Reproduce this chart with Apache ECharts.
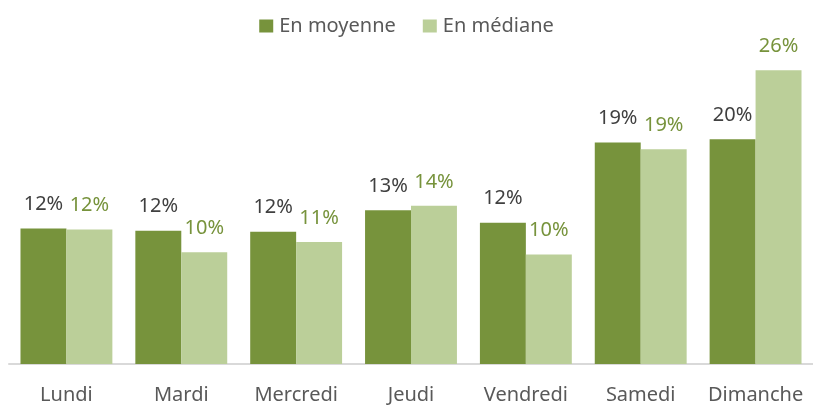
<!DOCTYPE html>
<html>
<head>
<meta charset="utf-8">
<script src="https://cdn.jsdelivr.net/npm/echarts@6/dist/echarts.min.js"></script>
<style>
  html, body { margin: 0; padding: 0; background: #fff; }
</style>
</head>
<body>
<div id="chart" style="width: 813px;height: 406px;"></div>
<script>
// jours de la semaine
const days = ['Lundi', 'Mardi', 'Mercredi', 'Jeudi', 'Vendredi', 'Samedi', 'Dimanche'];
// hauteurs des barres (%)
const moyenne = [12.0, 11.8, 11.7, 13.6, 12.5, 19.6, 19.9];
const mediane = [11.9, 9.9, 10.8, 14.0, 9.7, 19.0, 26.0];
// étiquettes affichées au-dessus des barres
const moyenneLabels = ['12%', '12%', '12%', '13%', '12%', '19%', '20%'];
const medianeLabels = ['12%', '10%', '11%', '14%', '10%', '19%', '26%'];

const FONT = 'Noto Sans';

const chart = echarts.init(document.getElementById('chart'));

let option = {
  animation: false,
  legend: {
    show: true,
    top: 11,
    left: 'center',
    icon: 'rect',
    itemWidth: 14,
    itemHeight: 13,
    itemGap: 27,
    textStyle: {
      color: '#595959',
      fontSize: 20,
      fontFamily: FONT,
      padding: [0, 0, 0, 1],
    },
    data: ['En moyenne', 'En médiane'],
  },
  grid: {
    top: 25,
    left: 9,
    right: 0,
    bottom: 42,
  },
  xAxis: {
    type: 'category',
    data: days,
    axisTick: { show: false },
    axisLine: {
      lineStyle: { color: '#D9D9D9', width: 2 },
    },
    axisLabel: {
      interval: 0,
      color: '#595959',
      fontSize: 20,
      fontFamily: FONT,
      margin: 21,
    },
  },
  yAxis: {
    type: 'value',
    min: 0,
    max: 30,
    show: false,
    splitLine: { show: false },
  },
  series: [
    {
      name: 'En moyenne',
      type: 'bar',
      data: moyenne,
      barGap: '0%',
      barCategoryGap: '20%',
      itemStyle: { color: '#77933C' },
      label: {
        show: true,
        position: 'top',
        distance: 14,
        color: '#404040',
        fontSize: 20,
        fontFamily: FONT,
        formatter: (p) => moyenneLabels[p.dataIndex],
      },
    },
    {
      name: 'En médiane',
      type: 'bar',
      data: mediane,
      itemStyle: { color: '#BBCF99' },
      label: {
        show: true,
        position: 'top',
        distance: 14,
        color: '#77933C',
        fontSize: 20,
        fontFamily: FONT,
        formatter: (p) => medianeLabels[p.dataIndex],
      },
    },
  ],
};
chart.setOption(option);
</script>
</body>
</html>
